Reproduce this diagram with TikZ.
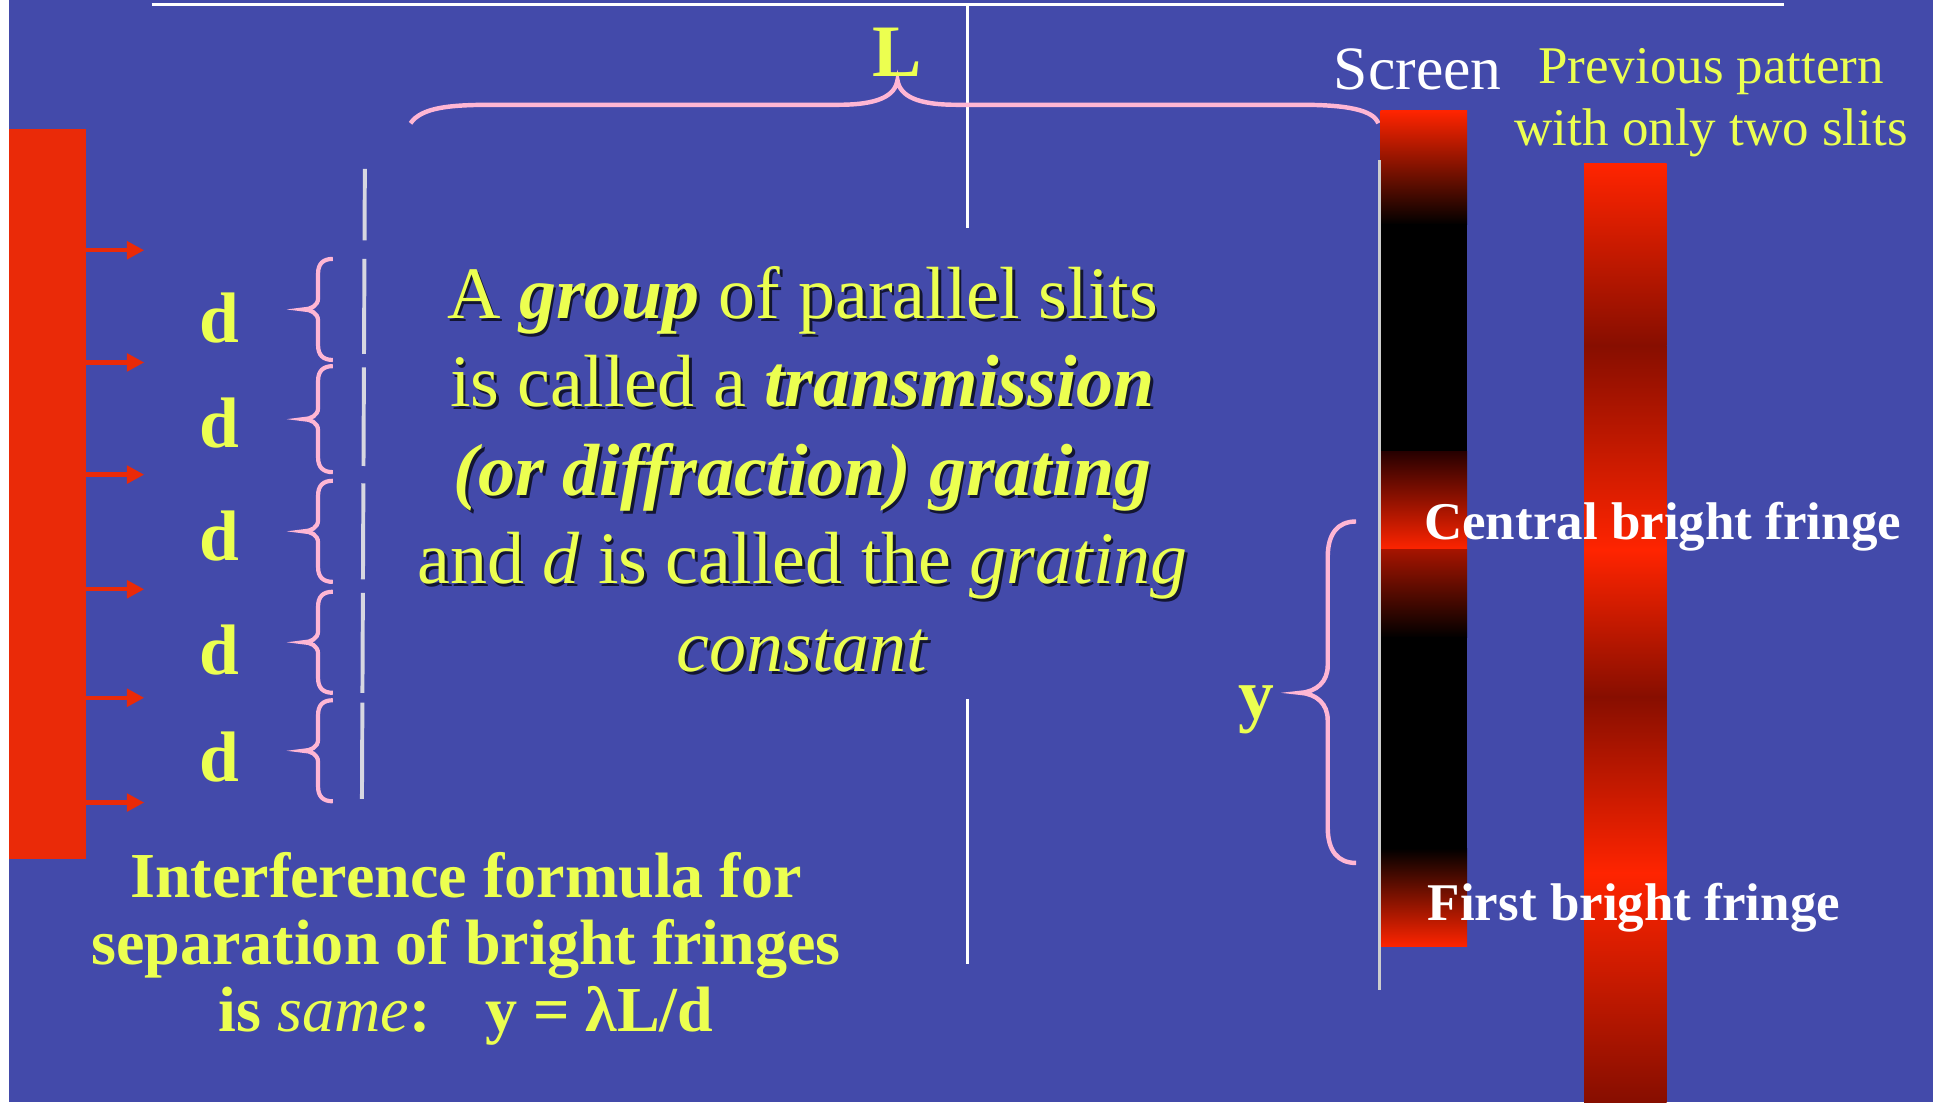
\documentclass[tikz,border=0pt]{standalone}
\usepackage{fontspec}
\setmainfont{Liberation Serif}
\usetikzlibrary{arrows.meta}
\definecolor{bg}{RGB}{67,74,170}
\definecolor{yel}{RGB}{236,255,80}
\definecolor{pinkb}{RGB}{255,182,212}
\definecolor{redr}{RGB}{234,42,8}
\definecolor{bright}{RGB}{255,36,0}
\definecolor{darkr}{RGB}{135,14,0}
\definecolor{slitc}{RGB}{215,215,225}
\newcommand\shtext[4]{%
  \node[shadowtxt] (#1s) at ([xshift=2.2pt,yshift=-2.4pt]#2,#3) {#4};
  \node[maintxt] (#1) at (#2,#3) {#4};}
\begin{document}
\begin{tikzpicture}[x=1pt,y=-1pt,
  ctext/.style={anchor=base,inner sep=0pt,font=\fontsize{60}{72}\selectfont},
  maintxt/.style={ctext,text=yel},
  shadowtxt/.style={ctext,text=black,opacity=0.7},
  dlabel/.style={anchor=base,inner sep=0pt,text=yel,font=\fontsize{58}{60}\selectfont\bfseries},
  btext/.style={anchor=base,inner sep=0pt,text=yel,font=\fontsize{52}{54}\selectfont\bfseries},
  fringe/.style={anchor=base west,inner sep=0pt,text=white,font=\fontsize{43}{48}\selectfont\bfseries},
  prev/.style={anchor=base,inner sep=0pt,text=yel,font=\fontsize{43}{48}\selectfont},
  pinkbrace/.style={draw=pinkb,line width=3.6pt},
  slit/.style={draw=slitc,line width=3.2pt},
  whiteline/.style={draw=white,line width=2.2pt},
  ray/.style={draw=redr,line width=3.6pt,-{Triangle[length=14pt,width=14pt]}}]
\useasboundingbox (0,0) rectangle (1568,894);
% background
\fill[bg] (0,0) rectangle (1568,894);
\fill[white] (0,0) rectangle (7,894);
% top white line and central vertical line
\coordinate (tl1) at (123,3.5); \coordinate (tl2) at (1447,3.5);
\draw[white,line width=2.4pt] (tl1) -- (tl2);
\coordinate (v1a) at (785,5); \coordinate (v1b) at (785,185);
\coordinate (v2a) at (785,567); \coordinate (v2b) at (785,782);
\draw[whiteline] (v1a) -- (v1b);
\draw[whiteline] (v2a) -- (v2b);
% light source
\fill[redr] (7,105) rectangle (70,697);
\foreach \yy [count=\i] in {203,294,385,478,566,651}{
  \coordinate (rs\i) at (70,\yy); \coordinate (re\i) at (117,\yy);
  \draw[ray] (rs\i) -- (re\i);}
% slits
\foreach \ya/\yb [count=\i] in {137/195,210/287,298/378,392/470,481/562,570/648}{
  \coordinate (sa\i) at (296-3*\ya/648+0.6,\ya); \coordinate (sb\i) at (296-3*\yb/648+0.6,\yb);
  \draw[slit] (sa\i) -- (sb\i);}
% small braces
\foreach \ya/\yb in {210/292,297/383,390/472,480/562,568/650}{
  \pgfmathsetmacro\ym{(\ya+\yb)/2}
  \draw[pinkbrace,line width=3.4pt] (270,\ya) .. controls (262,\ya) and (258,\ya+4) .. (258,\ya+12)
    -- (258,\ym-9) .. controls (258,\ym-3) and (252,\ym) .. (246,\ym)
    .. controls (252,\ym) and (258,\ym+3) .. (258,\ym+9)
    -- (258,\yb-12) .. controls (258,\yb-4) and (262,\yb) .. (270,\yb);}
% d labels
\foreach \yy [count=\i] in {278,363,455,547,634}{
  \node[dlabel] (d\i) at (178,\yy) {d};}
% L brace
\draw[pinkbrace] (333,100) .. controls (342,87) and (365,85) .. (400,85)
  -- (680,85) .. controls (712,85) and (726,78) .. (728,65)
  .. controls (730,78) and (744,85) .. (776,85)
  -- (1055,85) .. controls (1092,85) and (1114,89) .. (1118,100);
\node[anchor=base,inner sep=0pt,text=yel,font=\fontsize{60}{60}\selectfont\bfseries] (L) at (728,62) {L};
% central text
\shtext{c1}{651}{258}{A \textbf{\textit{group}} of parallel slits}
\shtext{c2}{651}{330}{is called a \textbf{\textit{transmission}}}
\shtext{c3}{651}{402}{\textbf{\textit{(or diffraction) grating}}}
\shtext{c4}{651}{473}{and \textit{d} is called the \textit{grating}}
\shtext{c5}{651}{545}{\textit{constant}}
% bottom-left text
\node[btext] (b1) at (378,728) {Interference formula for};
\node[btext] (b2) at (378,782) {separation of bright fringes};
\node[btext] (b3) at (378,837) {is \textmd{\textit{same}}:\hspace{0.85em}y = λL/d};
% screen
\shade[top color=bright,bottom color=black] (1120,90) rectangle (1190,182.5);
\fill[black] (1120,182) rectangle (1190,366.5);
\shade[top color=black!75!red!60!black,bottom color=bright] (1120,366) rectangle (1190,446);
\shade[top color={rgb,255:red,165;green,20;blue,0},bottom color=black] (1120,446) rectangle (1190,517.5);
\fill[black] (1120,517) rectangle (1190,688.5);
\shade[top color=black,bottom color=bright] (1120,688) rectangle (1190,768);
\coordinate (sl1) at (1119,130); \coordinate (sl2) at (1119,803);
\draw[draw={rgb,255:red,205;green,205;blue,205},line width=3.2pt] (sl1) -- (sl2);
\node[anchor=base,inner sep=0pt,text=white,font=\fontsize{50}{50}\selectfont] (scr) at (1150,73) {Screen};
% previous pattern bar
\shade[top color=bright,bottom color=darkr] (1285,133) rectangle (1352,280.5);
\shade[top color=darkr,bottom color=bright] (1285,280) rectangle (1352,446.5);
\shade[top color=bright,bottom color=darkr] (1285,446) rectangle (1352,565.5);
\shade[top color=darkr,bottom color=bright] (1285,565) rectangle (1352,708.5);
\shade[top color=bright,bottom color=darkr] (1285,708) rectangle (1352,894);
\node[prev] (p1) at (1388,68) {Previous pattern};
\node[prev] (p2) at (1388,118) {with only two slits};
% y brace
\draw[pinkbrace] (1100,423) .. controls (1085,423) and (1077,433) .. (1077,452)
  -- (1077,540) .. controls (1077,553) and (1068,561) .. (1055,562)
  .. controls (1068,563) and (1077,571) .. (1077,584)
  -- (1077,671) .. controls (1077,690) and (1085,700) .. (1100,700);
\node[dlabel] (yl) at (1019,583) {y};
% fringe labels
\node[fringe] (cbf) at (1155,438) {Central bright fringe};
\node[fringe] (fbf) at (1158,747) {First bright fringe};
\end{tikzpicture}
\end{document}
